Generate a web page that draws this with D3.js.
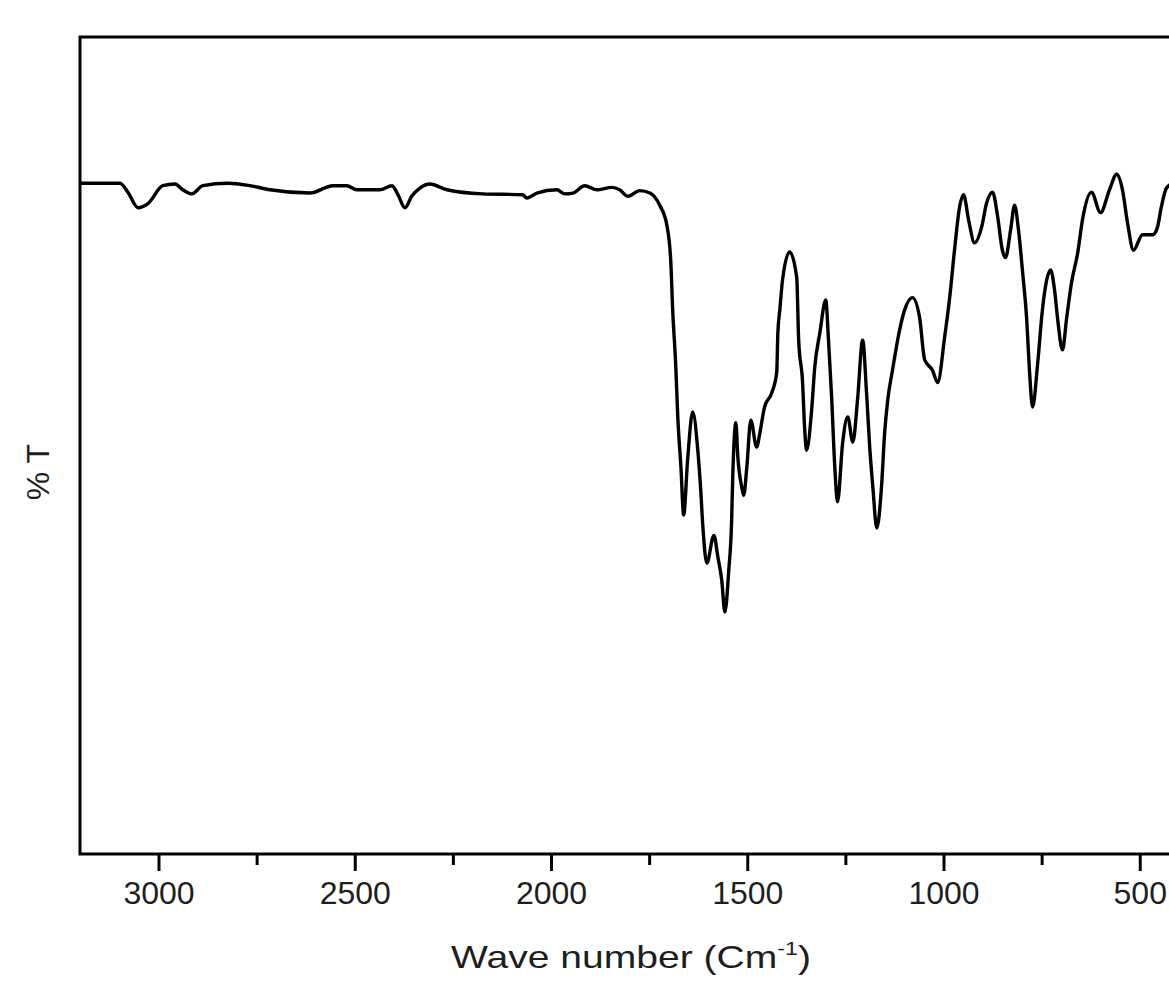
<!DOCTYPE html>
<html>
<head>
<meta charset="utf-8">
<script src="https://cdn.jsdelivr.net/npm/d3@7"></script>
<style>
  html, body { margin: 0; padding: 0; background: #fff; }
  svg { display: block; }
  text { font-family: "Liberation Sans", Arial, sans-serif; fill: #1e1e1e; }
</style>
</head>
<body>
<svg id="chart" width="1169" height="987"></svg>
<script>
// FTIR spectrum: wavenumber (cm^-1) and transmittance (%T, arbitrary scale 0-100)
const wavenumber = [3200,3098,3078,3052,3027,2989,2958,2938,2915,2887,2823,2767,2716,2614,2556,2520,2495,2436,2405,2390,2372,2355,2334,2309,2265,2174,2072,2062,2036,1985,1965,1944,1914,1883,1845,1825,1804,1774,1748,1723,1705,1695,1690,1682,1677,1669,1662,1652,1639,1626,1619,1613,1603,1585,1575,1565,1557,1547,1540,1537,1529,1524,1514,1509,1501,1491,1476,1468,1456,1438,1425,1422,1417,1410,1392,1374,1369,1359,1354,1349,1336,1328,1315,1300,1293,1285,1277,1270,1257,1244,1231,1219,1206,1196,1188,1180,1170,1158,1150,1142,1130,1112,1099,1079,1061,1048,1028,1015,997,984,972,959,949,936,921,903,890,875,862,850,842,829,819,809,799,788,781,773,760,748,727,717,709,697,686,674,658,646,623,600,577,559,544,531,516,493,467,455,445,432,400];
const transmittance = [82.1,82.1,81.0,79.1,79.6,81.8,82.0,81.3,80.8,81.8,82.1,81.8,81.3,80.9,81.8,81.8,81.3,81.3,81.8,80.7,79.1,80.5,81.5,82.0,81.3,80.8,80.7,80.3,80.9,81.3,80.8,80.9,81.8,81.3,81.6,81.3,80.5,81.2,80.9,79.4,77.0,72.7,66.6,59.6,53.5,47.4,41.5,48.2,54.1,49.4,44.9,40.0,35.6,39.0,36.4,33.5,29.6,34.8,40.5,46.1,52.8,48.6,44.9,43.9,47.4,53.1,49.8,51.5,54.7,56.4,58.9,63.8,66.6,70.3,73.7,70.6,62.9,57.7,52.3,49.4,54.3,59.6,63.8,67.8,62.9,55.9,47.4,43.1,50.3,53.5,50.4,55.6,62.9,56.4,49.8,44.9,39.9,44.9,51.5,55.6,59.2,64.1,66.6,68.1,65.7,60.5,59.2,57.7,63.3,68.2,73.9,79.2,80.7,77.6,74.8,76.7,79.7,81.0,78.0,73.9,73.0,76.4,79.4,76.4,71.5,65.4,59.2,54.7,60.1,66.6,71.5,69.0,65.4,61.7,65.7,69.9,73.6,77.6,81.0,78.5,81.3,83.2,81.3,77.2,73.9,75.8,75.8,76.7,79.2,81.5,82.5];

const xDomain = [3200, 400];
const yDomain = [0, 100];
const majorTicks = [3000, 2500, 2000, 1500, 1000, 500];
const minorTicks = [2750, 2250, 1750, 1250, 750];
const xTitle = "Wave number (Cm";
const xTitleSup = "-1";
const yTitle = "% T";

(function () {
  const data = wavenumber.map((w, i) => ({ w, t: transmittance[i] }));

  const svg = d3.select("#chart");
  const mLeft = 80, mRight = 1179, mTop = 37, mBottom = 854;

  const x = d3.scaleLinear().domain(xDomain).range([mLeft, mRight]);
  const y = d3.scaleLinear().domain(yDomain).range([mBottom, mTop]);

  // frame
  svg.append("rect")
    .attr("x", mLeft).attr("y", mTop)
    .attr("width", mRight - mLeft).attr("height", mBottom - mTop)
    .attr("fill", "none").attr("stroke", "#000").attr("stroke-width", 3);

  // spectrum line
  svg.append("path")
    .datum(data)
    .attr("fill", "none")
    .attr("stroke", "#000")
    .attr("stroke-width", 3.4)
    .attr("stroke-linejoin", "round")
    .attr("d", d3.line().x(d => x(d.w)).y(d => y(d.t)).curve(d3.curveMonotoneX));

  // major ticks with labels
  const axMajor = svg.append("g")
    .attr("transform", `translate(0,${mBottom})`)
    .call(d3.axisBottom(x).tickValues(majorTicks).tickSize(17).tickPadding(10).tickFormat(d3.format("d")));
  axMajor.select(".domain").remove();
  axMajor.selectAll(".tick line").attr("stroke", "#000").attr("stroke-width", 3);
  axMajor.selectAll(".tick text")
    .style("font-family", '"Liberation Sans", Arial, sans-serif')
    .style("font-size", "32px").attr("fill", "#1e1e1e");

  // minor ticks
  const axMinor = svg.append("g")
    .attr("transform", `translate(0,${mBottom})`)
    .call(d3.axisBottom(x).tickValues(minorTicks).tickSize(11).tickFormat(""));
  axMinor.select(".domain").remove();
  axMinor.selectAll(".tick line").attr("stroke", "#000").attr("stroke-width", 3);

  // x title
  const xt = svg.append("text")
    .attr("text-anchor", "middle")
    .style("font-size", "32px");
  xt.append("tspan").text(xTitle);
  xt.append("tspan").attr("dy", -13).style("font-size", "19px").text(xTitleSup);
  xt.append("tspan").attr("dy", 13).text(")");
  const bb = xt.node().getBBox();
  const sx = 360 / bb.width;
  xt.attr("transform", `translate(631,968) scale(${sx},1)`);

  // y title
  svg.append("text")
    .attr("text-anchor", "middle")
    .attr("transform", "translate(49,472) rotate(-90)")
    .style("font-size", "32px")
    .text(yTitle);
})();
</script>
</body>
</html>
